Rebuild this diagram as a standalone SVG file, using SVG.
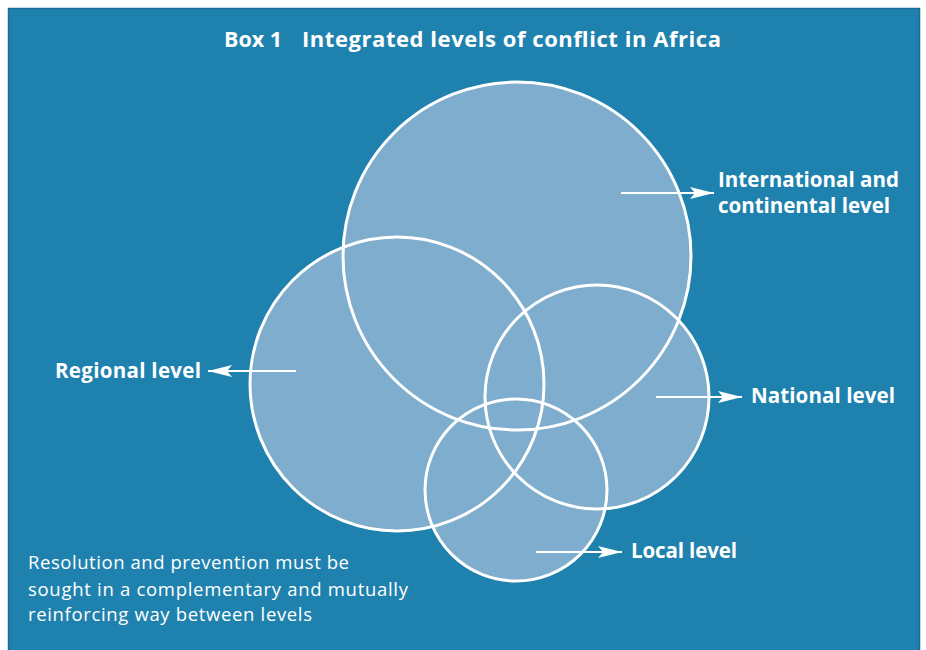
<svg xmlns="http://www.w3.org/2000/svg" width="926" height="650" viewBox="0 0 926 650">
<defs>
<style>
.bg{fill:#1f82ae;stroke:#1a6c98;stroke-width:1.5}
.fillc{fill:#7eadcd;stroke:none}
.ring{fill:none;stroke:#ffffff;stroke-width:3}
.t{font-family:"Open Sans","Liberation Sans",sans-serif;fill:#ffffff}
.lbl{font-size:20.5px;font-weight:700}
.title{font-size:22px;font-weight:700}
.note{font-size:18.5px;font-weight:400}
.arr{stroke:#ffffff;stroke-width:2;fill:none}
</style>
<marker id="ah" markerWidth="26" markerHeight="14" refX="24" refY="7" orient="auto" markerUnits="userSpaceOnUse">
<path d="M0,1 L24,7 L0,13 L5,7 Z" fill="#ffffff"/>
</marker>
</defs>
<rect class="bg" x="8.5" y="8.5" width="911" height="645"/>
<g id="title">
<text class="t title" x="224" y="47" textLength="58" lengthAdjust="spacingAndGlyphs">Box 1</text>
<text class="t title" x="302" y="47" textLength="419" lengthAdjust="spacing">Integrated levels of conflict in Africa</text>
</g>
<g id="fills">
<circle class="fillc" cx="517" cy="256" r="174"/>
<circle class="fillc" cx="397" cy="384" r="147"/>
<circle class="fillc" cx="597" cy="397" r="112"/>
<circle class="fillc" cx="516" cy="490" r="91"/>
</g>
<g id="international"><circle class="ring" cx="517" cy="256" r="174"/><text class="t lbl" x="718" y="187" textLength="181" lengthAdjust="spacing">International and</text><text class="t lbl" x="718" y="213" textLength="172" lengthAdjust="spacing">continental level</text></g>
<g id="regional"><circle class="ring" cx="397" cy="384" r="147"/><text class="t lbl" x="55" y="378" textLength="146" lengthAdjust="spacing">Regional level</text></g>
<g id="national"><circle class="ring" cx="597" cy="397" r="112"/><text class="t lbl" x="751" y="403" textLength="144" lengthAdjust="spacing">National level</text></g>
<g id="local"><circle class="ring" cx="516" cy="490" r="91"/><text class="t lbl" x="631" y="558" textLength="106" lengthAdjust="spacing">Local level</text></g>
<g id="connectors">
<line class="arr" x1="621" y1="193" x2="714" y2="193" marker-end="url(#ah)"/>
<line class="arr" x1="296" y1="371" x2="208" y2="371" marker-end="url(#ah)"/>
<line class="arr" x1="656" y1="397" x2="742" y2="397" marker-end="url(#ah)"/>
<line class="arr" x1="536" y1="552" x2="622" y2="552" marker-end="url(#ah)"/>
</g>
<g id="note">
<text class="t note" x="28" y="569" textLength="321" lengthAdjust="spacing">Resolution and prevention must be</text>
<text class="t note" x="28" y="596" textLength="380" lengthAdjust="spacing">sought in a complementary and mutually</text>
<text class="t note" x="28" y="621" textLength="284" lengthAdjust="spacing">reinforcing way between levels</text>
</g>
</svg>
